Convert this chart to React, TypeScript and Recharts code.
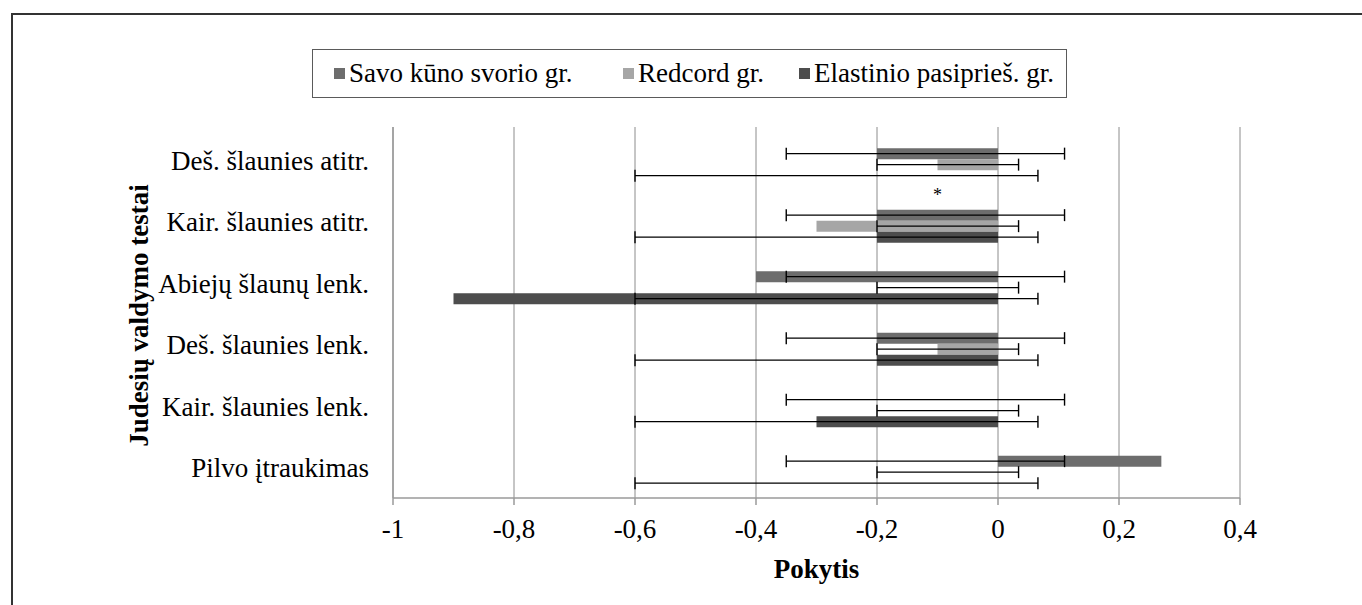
import React from 'react';
import { BarChart, Bar, XAxis, YAxis, CartesianGrid, ErrorBar, Legend, ReferenceDot } from 'recharts';

const categories = [
  'Deš. šlaunies atitr.',
  'Kair. šlaunies atitr.',
  'Abiejų šlaunų lenk.',
  'Deš. šlaunies lenk.',
  'Kair. šlaunies lenk.',
  'Pilvo įtraukimas',
];
const seriesNames = ['Savo kūno svorio gr.', 'Redcord gr.', 'Elastinio pasiprieš. gr.'];
const seriesColors = ['#6d6d6d', '#a6a6a6', '#4d4d4d'];
const savoValues = [-0.2, -0.2, -0.4, -0.2, 0, 0.27];
const redcordValues = [-0.1, -0.3, 0, -0.1, 0, 0];
const elastinioValues = [0, -0.2, -0.9, -0.2, -0.3, 0];
// error bar extents [low, high] on the value axis (same in every row)
const savoErrorRange = [-0.35, 0.11];
const redcordErrorRange = [-0.2, 0.034];
const elastinioErrorRange = [-0.6, 0.066];
const xTicks = [-1, -0.8, -0.6, -0.4, -0.2, 0, 0.2, 0.4];
const starX = -0.1;
const starCategory = 'Deš. šlaunies atitr.';
const starText = '*';
const xTitle = 'Pokytis';
const yTitle = 'Judesių valdymo testai';

const FONT = '"Liberation Serif", "Times New Roman", serif';
const FS = 27;

const errFor = (v: number, range: number[]) => [v - range[0], range[1] - v];

const data = categories.map((name, i) => ({
  name,
  savo: savoValues[i],
  redcord: redcordValues[i],
  elastinio: elastinioValues[i],
  savoErr: errFor(savoValues[i], savoErrorRange),
  redcordErr: errFor(redcordValues[i], redcordErrorRange),
  elastinioErr: errFor(elastinioValues[i], elastinioErrorRange),
}));

const legendItemWidths = [289, 176, 250];

const LegendBox = () => (
  <div style={{ width: 755, height: 78 }}>
    <div
      style={{
        boxSizing: 'border-box',
        width: 755,
        height: 49,
        border: '1px solid #5a5a5a',
        display: 'flex',
        alignItems: 'center',
        paddingLeft: 21,
        fontFamily: FONT,
        fontSize: FS,
        color: '#000',
        whiteSpace: 'nowrap',
      }}
    >
      {seriesNames.map((n, i) => (
        <div key={n} style={{ display: 'flex', alignItems: 'center', width: legendItemWidths[i], flex: 'none' }}>
          <span style={{ display: 'inline-block', width: 11, height: 11, background: seriesColors[i], marginRight: 4, flex: 'none' }} />
          <span>{n}</span>
        </div>
      ))}
    </div>
  </div>
);

const YTitle = (props: any) => {
  const vb = props.viewBox || {};
  const cy = vb.y !== undefined && vb.height !== undefined ? vb.y + vb.height / 2 + 3 : 315;
  const cx = 148;
  return (
    <text
      x={cx}
      y={cy}
      transform={`rotate(-90 ${cx} ${cy})`}
      textAnchor="middle"
      fontFamily={FONT}
      fontWeight="bold"
      fontSize={FS}
      fill="#000"
    >
      {yTitle}
    </text>
  );
};

const XTitle = (props: any) => {
  const vb = props.viewBox || {};
  const cx = vb.x !== undefined && vb.width !== undefined ? vb.x + vb.width / 2 : 816;
  return (
    <text x={cx} y={578} textAnchor="middle" fontFamily={FONT} fontWeight="bold" fontSize={FS} fill="#000">
      {xTitle}
    </text>
  );
};

const YTick = (props: any) => {
  const { x, y, payload } = props;
  return (
    <text x={x} y={y} dy={5} textAnchor="end" fontFamily={FONT} fontSize={FS} fill="#000">
      {payload.value}
    </text>
  );
};

const StarLabel = (props: any) => {
  const vb = props.viewBox || {};
  const cx = (vb.x || 0) + (vb.width || 0) / 2;
  const cy = (vb.y || 0) + (vb.height || 0) / 2;
  return (
    <text x={cx} y={cy + 36} textAnchor="middle" fontFamily={FONT} fontSize={18} fill="#000">
      {starText}
    </text>
  );
};

const zeroMin = (v: number) => (v === 0 ? 0.01 : 0);

export default function App() {
  return (
    <div
      style={{
        position: 'absolute',
        left: 0,
        top: 0,
        width: 1362,
        height: 605,
        overflow: 'hidden',
        background: '#fff',
        fontFamily: FONT,
      }}
    >
      <div
        style={{
          position: 'absolute',
          left: 11,
          top: 13,
          width: 1400,
          height: 700,
          borderTop: '2px solid #333',
          borderLeft: '2px solid #333',
        }}
      />
      <div style={{ position: 'absolute', left: 0, top: 0 }}>
        <BarChart
          width={1362}
          height={605}
          data={data}
          layout="vertical"
          margin={{ top: 49, right: 122, bottom: 0, left: 0 }}
          barCategoryGap="23%"
          barGap={0}
        >
          <CartesianGrid horizontal={false} vertical={true} stroke="#8c8c8c" strokeWidth={1} />
          <XAxis
            type="number"
            domain={[-1, 0.4]}
            ticks={xTicks}
            interval={0}
            allowDataOverflow
            tickFormatter={(v: number) => String(v).replace('.', ',')}
            axisLine={{ stroke: '#9a9a9a', strokeWidth: 1.5 }}
            tickLine={{ stroke: '#9a9a9a', strokeWidth: 1.5 }}
            tickSize={7}
            tickMargin={14}
            height={107}
            tick={{ fill: '#000', fontSize: FS, fontFamily: FONT }}
            label={{ content: XTitle }}
          />
          <YAxis
            type="category"
            dataKey="name"
            width={393}
            interval={0}
            padding={{ top: 7, bottom: -5 }}
            axisLine={{ stroke: '#9a9a9a', strokeWidth: 1.5 }}
            tickLine={false}
            tickSize={0}
            tickMargin={24}
            tick={<YTick />}
            label={{ content: YTitle }}
          />
          <Legend
            verticalAlign="top"
            align="left"
            wrapperStyle={{ left: 312, top: 49, width: 755, height: 78 }}
            content={() => <LegendBox />}
          />
          <Bar dataKey="savo" name={seriesNames[0]} fill={seriesColors[0]} minPointSize={zeroMin} isAnimationActive={false}>
            <ErrorBar dataKey="savoErr" direction="x" width={6} stroke="#000" strokeWidth={1.4} isAnimationActive={false} />
          </Bar>
          <Bar dataKey="redcord" name={seriesNames[1]} fill={seriesColors[1]} minPointSize={zeroMin} isAnimationActive={false}>
            <ErrorBar dataKey="redcordErr" direction="x" width={6} stroke="#000" strokeWidth={1.4} isAnimationActive={false} />
          </Bar>
          <Bar dataKey="elastinio" name={seriesNames[2]} fill={seriesColors[2]} minPointSize={zeroMin} isAnimationActive={false}>
            <ErrorBar dataKey="elastinioErr" direction="x" width={6} stroke="#000" strokeWidth={1.4} isAnimationActive={false} />
          </Bar>
          <ReferenceDot x={starX} y={starCategory} r={0} ifOverflow="visible" label={{ content: StarLabel }} />
        </BarChart>
      </div>
    </div>
  );
}
